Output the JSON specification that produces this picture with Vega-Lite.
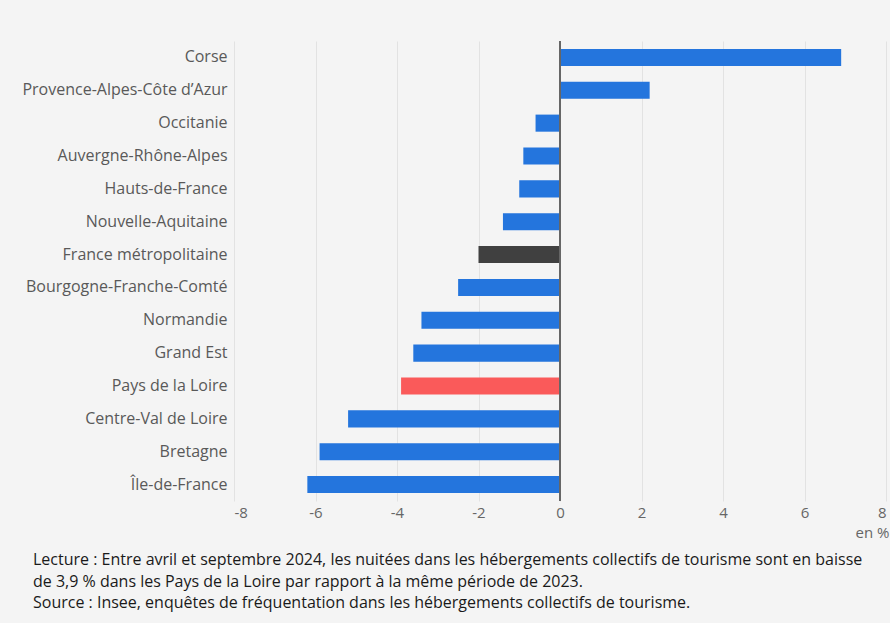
{
  "$schema": "https://vega.github.io/schema/vega-lite/v6.json",
  "width": 652,
  "height": 460,
  "autosize": {"type": "none"},
  "padding": {"left": 234, "top": 41, "right": 4, "bottom": 122},
  "background": "#f4f4f4",
  "config": {"font": "Open Sans", "view": {"stroke": null}},
  "title": {
    "text": [
      "Lecture : Entre avril et septembre 2024, les nuitées dans les hébergements collectifs de tourisme sont en baisse",
      "de 3,9 % dans les Pays de la Loire par rapport à la même période de 2023.",
      "Source : Insee, enquêtes de fréquentation dans les hébergements collectifs de tourisme."
    ],
    "orient": "bottom",
    "anchor": "start",
    "frame": "group",
    "dx": -201,
    "fontSize": 16,
    "fontWeight": "normal",
    "color": "#1a1a1a",
    "lineHeight": 21.5,
    "offset": 12
  },
  "data": {
    "values": [
      {"region": "Corse", "value": 6.9, "group": "region"},
      {"region": "Provence-Alpes-Côte d’Azur", "value": 2.2, "group": "region"},
      {"region": "Occitanie", "value": -0.6, "group": "region"},
      {"region": "Auvergne-Rhône-Alpes", "value": -0.9, "group": "region"},
      {"region": "Hauts-de-France", "value": -1.0, "group": "region"},
      {"region": "Nouvelle-Aquitaine", "value": -1.4, "group": "region"},
      {"region": "France métropolitaine", "value": -2.0, "group": "france"},
      {"region": "Bourgogne-Franche-Comté", "value": -2.5, "group": "region"},
      {"region": "Normandie", "value": -3.4, "group": "region"},
      {"region": "Grand Est", "value": -3.6, "group": "region"},
      {"region": "Pays de la Loire", "value": -3.9, "group": "pdl"},
      {"region": "Centre-Val de Loire", "value": -5.2, "group": "region"},
      {"region": "Bretagne", "value": -5.9, "group": "region"},
      {"region": "Île-de-France", "value": -6.2, "group": "region"}
    ]
  },
  "layer": [
    {
      "mark": {"type": "bar"},
      "encoding": {
        "y": {
          "field": "region",
          "type": "nominal",
          "sort": null,
          "scale": {"paddingInner": 0.48, "paddingOuter": 0.24},
          "axis": {
            "title": null,
            "ticks": false,
            "domain": false,
            "labelFontSize": 16,
            "labelColor": "#595959",
            "labelPadding": 7,
            "labelLimit": 300
          }
        },
        "x": {
          "field": "value",
          "type": "quantitative",
          "scale": {"domain": [-8, 8], "nice": false},
          "axis": {
            "values": [-8, -6, -4, -2, 0, 2, 4, 6, 8],
            "labelExpr": "datum.value + ''",
            "grid": true,
            "gridColor": "#e2e2e2",
            "ticks": false,
            "domain": false,
            "labelFontSize": 15,
            "labelColor": "#666666",
            "labelPadding": 4,
            "title": "en %",
            "titleAnchor": "end",
            "titleAlign": "right",
            "titleFontWeight": "normal",
            "titleFontSize": 15,
            "titleColor": "#666666",
            "titlePadding": 5,
            "titleX": 655
          }
        },
        "color": {
          "field": "group",
          "type": "nominal",
          "scale": {"domain": ["region", "france", "pdl"], "range": ["#2475dd", "#404040", "#fa5a5a"]},
          "legend": null
        }
      }
    },
    {
      "data": {"values": [{"z": 0}]},
      "mark": {"type": "rule", "color": "#666666", "strokeWidth": 2},
      "encoding": {"x": {"field": "z", "type": "quantitative"}}
    }
  ]
}
